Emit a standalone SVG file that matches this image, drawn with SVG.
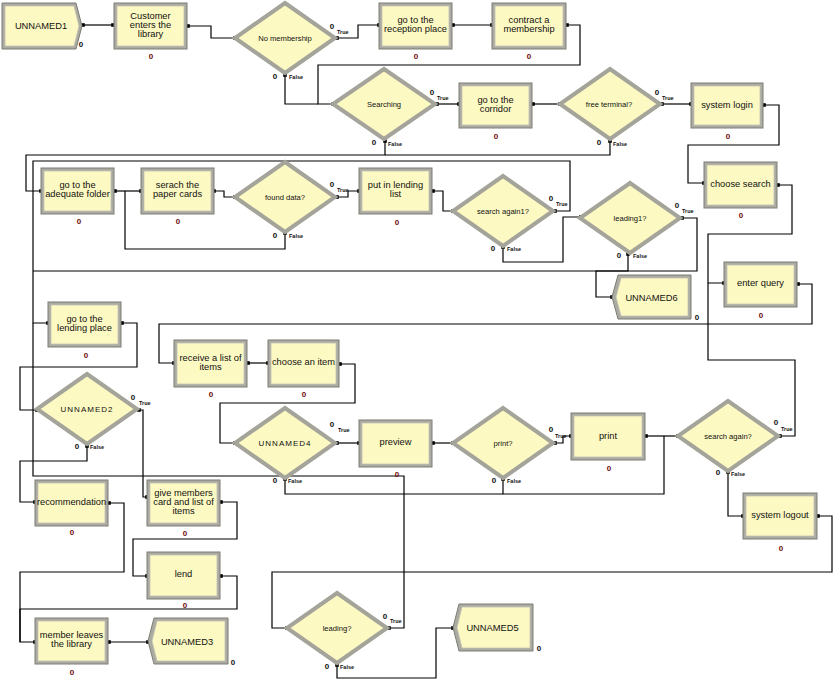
<svg xmlns="http://www.w3.org/2000/svg" xmlns:xlink="http://www.w3.org/1999/xlink" width="836" height="683" viewBox="0 0 836 683">
<style>
  .frame { fill: #ababa2; stroke: #7d7d76; stroke-width: 1; }
  .face { fill: #fdf9c2; stroke: #c2c2b8; stroke-width: 0.8; }
  .dia { fill: #fdf9c2; stroke: #a4a49a; stroke-width: 4; stroke-linejoin: miter; }
  .dia-edge { fill: none; stroke: #7f7f78; stroke-width: 0.8; }
  .lbl { font-family: "Liberation Sans", Arial, sans-serif; font-size: 9.3px; fill: #111; text-anchor: middle; }
  .dlbl { font-family: "Liberation Sans", Arial, sans-serif; font-size: 7.6px; fill: #111; text-anchor: middle; }
  .ulbl { font-family: "Liberation Sans", Arial, sans-serif; font-size: 8px; letter-spacing: 1px; fill: #111; text-anchor: middle; }
  .cnt { font-family: "Liberation Sans", Arial, sans-serif; font-size: 8px; font-weight: bold; fill: #6e0a0a; text-anchor: middle; }
  .cntk { font-family: "Liberation Sans", Arial, sans-serif; font-size: 8px; font-weight: bold; fill: #111; text-anchor: middle; }
  .tf { font-family: "Liberation Sans", Arial, sans-serif; font-size: 5.5px; font-weight: bold; fill: #111; }
  .wire { fill: none; stroke: #000; stroke-width: 1.2; }
</style>
<defs>
  <rect id="pt" x="-1.8" y="-1.8" width="3.6" height="3.6" fill="#000"/>
</defs>
<rect width="836" height="683" fill="#ffffff"/>

<!-- connectors -->
<g id="connectors">
  <path class="wire" d="M83,25 H113"/>
  <path class="wire" d="M188,26 H211 V38 H235"/>
  <path class="wire" d="M337,38 H358 V25 H379"/>
  <path class="wire" d="M453,25 H492"/>
  <path class="wire" d="M567,25 H580 V65 H318 V104 H333"/>
  <path class="wire" d="M285,75 V104 H318"/>
  <path class="wire" d="M437,104 H459"/>
  <path class="wire" d="M533,104 H560"/>
  <path class="wire" d="M662,104 H691"/>
  <path class="wire" d="M764,105 H779 V145 H688 V183 H704"/>
  <path class="wire" d="M385,141 V155 H26 V191 H41"/>
  <path class="wire" d="M610,141 V155 H385"/>
  <path class="wire" d="M115,191 H141"/>
  <path class="wire" d="M285,233 V249 H125 V191"/>
  <path class="wire" d="M214,191 H224 V197 H235"/>
  <path class="wire" d="M337,197 H348 V191 H359"/>
  <path class="wire" d="M433,191 H443 V211 H453"/>
  <path class="wire" d="M555,211 H570 V161 H33 V323 H48"/>
  <path class="wire" d="M503,247 V262 H563 V217 H581"/>
  <path class="wire" d="M682,218 H697 V271 H33"/>
  <path class="wire" d="M628,254 V271 H596 V297 H612"/>
  <path class="wire" d="M778,185 H792 V234 H708 V283 H724"/>
  <path class="wire" d="M798,284 H812 V324 H159 V363 H174"/>
  <path class="wire" d="M248,363 H268"/>
  <path class="wire" d="M340,364 H355 V403 H220 V443 H235"/>
  <path class="wire" d="M337,443 H359"/>
  <path class="wire" d="M433,443 H453"/>
  <path class="wire" d="M555,443 H563 V436 H571"/>
  <path class="wire" d="M646,436 H678"/>
  <path class="wire" d="M503,479 V494 H664 V436"/>
  <path class="wire" d="M285,479 V494 H503"/>
  <path class="wire" d="M780,436 H795 V360 H708 V283"/>
  <path class="wire" d="M728,472 V516 H743"/>
  <path class="wire" d="M818,516 H832 V572 H272 V628 H287"/>
  <path class="wire" d="M389,628 H404 V476 H33 V323"/>
  <path class="wire" d="M337,665 V678 H436 V628 H453"/>
  <path class="wire" d="M122,323 H137 V367 H20 V410 H37"/>
  <path class="wire" d="M139,410 H143 V497 H147"/>
  <path class="wire" d="M87,446 V461 H20 V502 H35"/>
  <path class="wire" d="M221,502 H237 V539 H133 V576 H147"/>
  <path class="wire" d="M221,576 H237 V609 H20 V642 H35"/>
  <path class="wire" d="M109,503 H124 V572 H20 V642"/>
  <path class="wire" d="M109,642 H148"/>
  <!-- connection points -->
  <use href="#pt" x="83" y="25"/><use href="#pt" x="113" y="25"/>
  <use href="#pt" x="188" y="26"/><use href="#pt" x="235" y="38"/>
  <use href="#pt" x="337" y="38"/><use href="#pt" x="379" y="25"/>
  <use href="#pt" x="453" y="25"/><use href="#pt" x="492" y="25"/>
  <use href="#pt" x="567" y="25"/><use href="#pt" x="333" y="104"/>
  <use href="#pt" x="285" y="75"/>
  <use href="#pt" x="437" y="104"/><use href="#pt" x="459" y="104"/>
  <use href="#pt" x="533" y="104"/><use href="#pt" x="560" y="104"/>
  <use href="#pt" x="662" y="104"/><use href="#pt" x="691" y="104"/>
  <use href="#pt" x="764" y="105"/><use href="#pt" x="704" y="183"/>
  <use href="#pt" x="385" y="141"/><use href="#pt" x="41" y="191"/>
  <use href="#pt" x="610" y="141"/>
  <use href="#pt" x="115" y="191"/><use href="#pt" x="141" y="191"/>
  <use href="#pt" x="285" y="233"/>
  <use href="#pt" x="214" y="191"/><use href="#pt" x="235" y="197"/>
  <use href="#pt" x="337" y="197"/><use href="#pt" x="359" y="191"/>
  <use href="#pt" x="433" y="191"/><use href="#pt" x="453" y="211"/>
  <use href="#pt" x="555" y="211"/><use href="#pt" x="48" y="323"/>
  <use href="#pt" x="503" y="247"/><use href="#pt" x="581" y="217"/>
  <use href="#pt" x="682" y="218"/>
  <use href="#pt" x="628" y="254"/><use href="#pt" x="612" y="297"/>
  <use href="#pt" x="778" y="185"/><use href="#pt" x="724" y="283"/>
  <use href="#pt" x="798" y="284"/><use href="#pt" x="174" y="363"/>
  <use href="#pt" x="248" y="363"/><use href="#pt" x="268" y="363"/>
  <use href="#pt" x="340" y="364"/><use href="#pt" x="235" y="443"/>
  <use href="#pt" x="337" y="443"/><use href="#pt" x="359" y="443"/>
  <use href="#pt" x="433" y="443"/><use href="#pt" x="453" y="443"/>
  <use href="#pt" x="555" y="443"/><use href="#pt" x="571" y="436"/>
  <use href="#pt" x="646" y="436"/><use href="#pt" x="678" y="436"/>
  <use href="#pt" x="503" y="479"/><use href="#pt" x="285" y="479"/>
  <use href="#pt" x="780" y="436"/>
  <use href="#pt" x="728" y="472"/><use href="#pt" x="743" y="516"/>
  <use href="#pt" x="818" y="516"/><use href="#pt" x="287" y="628"/>
  <use href="#pt" x="389" y="628"/>
  <use href="#pt" x="337" y="665"/><use href="#pt" x="453" y="628"/>
  <use href="#pt" x="122" y="323"/><use href="#pt" x="37" y="410"/>
  <use href="#pt" x="139" y="410"/><use href="#pt" x="147" y="497"/>
  <use href="#pt" x="87" y="446"/><use href="#pt" x="35" y="502"/>
  <use href="#pt" x="221" y="502"/><use href="#pt" x="147" y="576"/>
  <use href="#pt" x="221" y="576"/><use href="#pt" x="35" y="642"/>
  <use href="#pt" x="109" y="503"/>
  <use href="#pt" x="109" y="642"/><use href="#pt" x="148" y="642"/>
</g>

<!-- create module -->
<g id="unnamed1">
  <polygon class="frame" points="2,3 76,3 82,26 76,49 2,49"/>
  <polygon class="face" points="5,6 74,6 79,26 74,46 5,46"/>
  <text class="lbl" x="41" y="29">UNNAMED1</text>
  <text class="cntk" x="81" y="47">0</text>
</g>

<!-- process modules -->
<g id="customer-enters">
  <rect class="frame" x="114" y="3" width="73" height="46"/><rect class="face" x="117" y="6" width="67" height="40"/>
  <text class="lbl" x="150.5" y="18.8">Customer</text><text class="lbl" x="150.5" y="27.8">enters the</text><text class="lbl" x="150.5" y="36.8">library</text>
  <text class="cnt" x="151" y="59">0</text>
</g>
<g id="go-reception">
  <rect class="frame" x="379" y="3" width="73" height="46"/><rect class="face" x="382" y="6" width="67" height="40"/>
  <text class="lbl" x="415.5" y="23.3">go to the</text><text class="lbl" x="415.5" y="32.3">reception place</text>
  <text class="cnt" x="416" y="59">0</text>
</g>
<g id="contract-membership">
  <rect class="frame" x="492" y="3" width="74" height="46"/><rect class="face" x="495" y="6" width="68" height="40"/>
  <text class="lbl" x="529" y="23.3">contract a</text><text class="lbl" x="529" y="32.3">membership</text>
  <text class="cnt" x="529" y="59">0</text>
</g>
<g id="go-corridor">
  <rect class="frame" x="459" y="83" width="73" height="45"/><rect class="face" x="462" y="86" width="67" height="39"/>
  <text class="lbl" x="495.5" y="102.8">go to the</text><text class="lbl" x="495.5" y="111.8">corridor</text>
  <text class="cnt" x="496" y="139">0</text>
</g>
<g id="system-login">
  <rect class="frame" x="691" y="83" width="72" height="45"/><rect class="face" x="694" y="86" width="66" height="39"/>
  <text class="lbl" x="727" y="107.5">system login</text>
  <text class="cnt" x="728" y="139">0</text>
</g>
<g id="choose-search">
  <rect class="frame" x="704" y="162" width="73" height="46"/><rect class="face" x="707" y="165" width="67" height="40"/>
  <text class="lbl" x="740.5" y="186.5">choose search</text>
  <text class="cnt" x="741" y="218">0</text>
</g>
<g id="adequate-folder">
  <rect class="frame" x="41" y="168" width="73" height="46"/><rect class="face" x="44" y="171" width="67" height="40"/>
  <text class="lbl" x="77.5" y="188.3">go to the</text><text class="lbl" x="77.5" y="197.3">adequate folder</text>
  <text class="cnt" x="79" y="224">0</text>
</g>
<g id="search-paper-cards">
  <rect class="frame" x="141" y="168" width="73" height="46"/><rect class="face" x="144" y="171" width="67" height="40"/>
  <text class="lbl" x="177.5" y="188.3">serach the</text><text class="lbl" x="177.5" y="197.3">paper cards</text>
  <text class="cnt" x="178" y="224">0</text>
</g>
<g id="put-lending-list">
  <rect class="frame" x="359" y="168" width="73" height="46"/><rect class="face" x="362" y="171" width="67" height="40"/>
  <text class="lbl" x="395.5" y="188.3">put in lending</text><text class="lbl" x="395.5" y="197.3">list</text>
  <text class="cnt" x="397" y="225">0</text>
</g>
<g id="enter-query">
  <rect class="frame" x="724" y="262" width="73" height="45"/><rect class="face" x="727" y="265" width="67" height="39"/>
  <text class="lbl" x="760.5" y="286">enter query</text>
  <text class="cnt" x="761" y="318">0</text>
</g>
<g id="go-lending-place">
  <rect class="frame" x="48" y="302" width="73" height="45"/><rect class="face" x="51" y="305" width="67" height="39"/>
  <text class="lbl" x="84.5" y="321.8">go to the</text><text class="lbl" x="84.5" y="330.8">lending place</text>
  <text class="cnt" x="86" y="358">0</text>
</g>
<g id="receive-list">
  <rect class="frame" x="174" y="340" width="73" height="47"/><rect class="face" x="177" y="343" width="67" height="41"/>
  <text class="lbl" x="210.5" y="360.8">receive a list of</text><text class="lbl" x="210.5" y="369.8">items</text>
  <text class="cnt" x="211" y="397">0</text>
</g>
<g id="choose-item">
  <rect class="frame" x="268" y="340" width="71" height="47"/><rect class="face" x="271" y="343" width="65" height="41"/>
  <text class="lbl" x="303.5" y="365.3">choose an item</text>
  <text class="cnt" x="304" y="397">0</text>
</g>
<g id="preview">
  <rect class="frame" x="359" y="420" width="73" height="47"/><rect class="face" x="362" y="423" width="67" height="41"/>
  <text class="lbl" x="395.5" y="444.5">preview</text>
  <text class="cnt" x="397" y="477">0</text>
</g>
<g id="print">
  <rect class="frame" x="571" y="413" width="74" height="47"/><rect class="face" x="574" y="416" width="68" height="41"/>
  <text class="lbl" x="608" y="438.5">print</text>
  <text class="cnt" x="609" y="471">0</text>
</g>
<g id="system-logout">
  <rect class="frame" x="743" y="493" width="74" height="46"/><rect class="face" x="746" y="496" width="68" height="40"/>
  <text class="lbl" x="780" y="517.5">system logout</text>
  <text class="cnt" x="781" y="551">0</text>
</g>
<g id="recommendation">
  <rect class="frame" x="35" y="480" width="73" height="46"/><rect class="face" x="38" y="483" width="67" height="40"/>
  <text class="lbl" x="71.5" y="505">recommendation</text>
  <text class="cnt" x="72" y="535">0</text>
</g>
<g id="give-card">
  <rect class="frame" x="147" y="480" width="73" height="46"/><rect class="face" x="150" y="483" width="67" height="40"/>
  <text class="lbl" x="183.5" y="495.8">give members</text><text class="lbl" x="183.5" y="504.8">card and list of</text><text class="lbl" x="183.5" y="513.8">items</text>
  <text class="cnt" x="185" y="536">0</text>
</g>
<g id="lend">
  <rect class="frame" x="147" y="552" width="73" height="47"/><rect class="face" x="150" y="555" width="67" height="41"/>
  <text class="lbl" x="183.5" y="577">lend</text>
  <text class="cnt" x="185" y="608">0</text>
</g>
<g id="member-leaves">
  <rect class="frame" x="35" y="618" width="73" height="46"/><rect class="face" x="38" y="621" width="67" height="40"/>
  <text class="lbl" x="71.5" y="638.3">member leaves</text><text class="lbl" x="71.5" y="647.3">the library</text>
  <text class="cnt" x="72" y="675">0</text>
</g>

<!-- dispose modules -->
<g id="unnamed6">
  <polygon class="frame" points="618,275 691,275 691,319 618,319 612,297"/>
  <polygon class="face" points="621,278 688,278 688,316 621,316 616,297"/>
  <text class="lbl" x="651.5" y="300.5">UNNAMED6</text>
  <text class="cntk" x="697" y="320">0</text>
</g>
<g id="unnamed3">
  <polygon class="frame" points="154,618 228,618 228,664 154,664 148,641"/>
  <polygon class="face" points="157,621 225,621 225,661 157,661 152,641"/>
  <text class="lbl" x="187" y="644.5">UNNAMED3</text>
  <text class="cntk" x="233" y="665">0</text>
</g>
<g id="unnamed5">
  <polygon class="frame" points="459,604 533,604 533,651 459,651 453,627.5"/>
  <polygon class="face" points="462,607 530,607 530,648 462,648 457,627.5"/>
  <text class="lbl" x="492.5" y="630.5">UNNAMED5</text>
  <text class="cntk" x="539" y="651">0</text>
</g>

<!-- decide modules -->
<g id="no-membership">
  <polygon class="dia" points="285,3 335,38 285,73 235,38"/>
  <text class="dlbl" x="285" y="41">No membership</text>
  <text class="cntk" x="332" y="29">0</text><text class="tf" x="337" y="34">True</text>
  <text class="cntk" x="275" y="79">0</text><text class="tf" x="289" y="79">False</text>
</g>
<g id="searching">
  <polygon class="dia" points="384,69 435,104 384,139 333,104"/>
  <text class="dlbl" x="384" y="107">Searching</text>
  <text class="cntk" x="432" y="95">0</text><text class="tf" x="437" y="100">True</text>
  <text class="cntk" x="374" y="145">0</text><text class="tf" x="388" y="146">False</text>
</g>
<g id="free-terminal">
  <polygon class="dia" points="610,69 660,104 610,139 560,104"/>
  <text class="dlbl" x="609" y="107">free terminal?</text>
  <text class="cntk" x="657" y="95">0</text><text class="tf" x="662" y="100">True</text>
  <text class="cntk" x="599" y="145">0</text><text class="tf" x="613" y="146">False</text>
</g>
<g id="found-data">
  <polygon class="dia" points="285,162 335,197 285,232 235,197"/>
  <text class="dlbl" x="285" y="200">found data?</text>
  <text class="cntk" x="332" y="187">0</text><text class="tf" x="337" y="192">True</text>
  <text class="cntk" x="275" y="238">0</text><text class="tf" x="289" y="238">False</text>
</g>
<g id="search-again1">
  <polygon class="dia" points="503,176 553,211 503,246 453,211"/>
  <text class="dlbl" x="503" y="214">search again1?</text>
  <text class="cntk" x="551" y="201">0</text><text class="tf" x="556" y="206">True</text>
  <text class="cntk" x="493" y="251">0</text><text class="tf" x="507" y="251">False</text>
</g>
<g id="leading1">
  <polygon class="dia" points="630,183 680,218 630,253 580,218"/>
  <text class="dlbl" x="630" y="221">leading1?</text>
  <text class="cntk" x="677" y="208">0</text><text class="tf" x="682" y="213">True</text>
  <text class="cntk" x="619" y="258">0</text><text class="tf" x="633" y="258">False</text>
</g>
<g id="unnamed2">
  <polygon class="dia" points="87,374 137,409 87,444 37,409"/>
  <text class="ulbl" x="87" y="412">UNNAMED2</text>
  <text class="cntk" x="133" y="400">0</text><text class="tf" x="139" y="405">True</text>
  <text class="cntk" x="77" y="449">0</text><text class="tf" x="90" y="449">False</text>
</g>
<g id="unnamed4">
  <polygon class="dia" points="285,408 335,443 285,478 235,443"/>
  <text class="ulbl" x="285" y="446">UNNAMED4</text>
  <text class="cntk" x="332" y="427">0</text><text class="tf" x="338" y="432">True</text>
  <text class="cntk" x="275" y="483">0</text><text class="tf" x="288" y="483">False</text>
</g>
<g id="print-decide">
  <polygon class="dia" points="503,408 553,443 503,478 453,443"/>
  <text class="dlbl" x="503" y="446">print?</text>
  <text class="cntk" x="551" y="432">0</text><text class="tf" x="555" y="438">True</text>
  <text class="cntk" x="494" y="483">0</text><text class="tf" x="507" y="483">False</text>
</g>
<g id="search-again">
  <polygon class="dia" points="728,401 778,436 728,471 678,436"/>
  <text class="dlbl" x="728" y="439">search again?</text>
  <text class="cntk" x="776" y="425">0</text><text class="tf" x="781" y="431">True</text>
  <text class="cntk" x="718" y="475">0</text><text class="tf" x="731" y="476">False</text>
</g>
<g id="leading">
  <polygon class="dia" points="337,593 387,628 337,663 287,628"/>
  <text class="dlbl" x="337" y="631">leading?</text>
  <text class="cntk" x="385" y="619">0</text><text class="tf" x="390" y="623">True</text>
  <text class="cntk" x="327" y="669">0</text><text class="tf" x="340" y="669">False</text>
</g>
</svg>
